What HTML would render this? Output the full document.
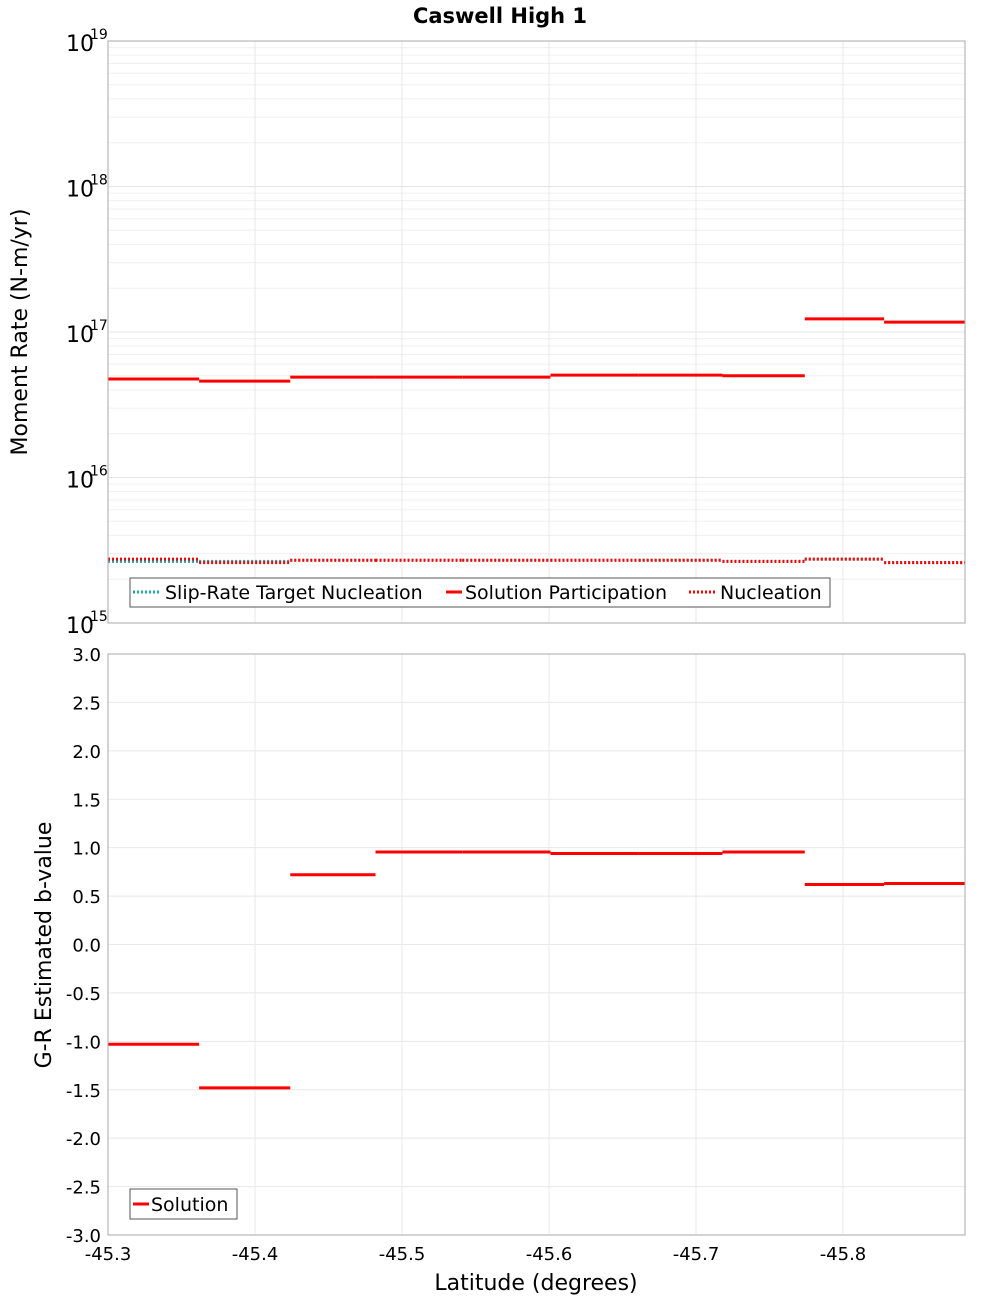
<!DOCTYPE html>
<html><head><meta charset="utf-8"><style>
body{margin:0;background:#fff;font-family:"DejaVu Sans","Liberation Sans",sans-serif}
svg text{font-family:"DejaVu Sans","Liberation Sans",sans-serif}
</style></head><body>
<svg id="c" width="1000" height="1300" xmlns="http://www.w3.org/2000/svg">
<text x="500" y="23" text-anchor="middle" font-size="21" font-weight="bold">Caswell High 1</text>
<g id="top"></g>
<g id="bot"></g>
</svg>
<script>
const binEdges=[-45.3,-45.362,-45.424,-45.482,-45.541,-45.601,-45.661,-45.718,-45.774,-45.828,-45.883];
const solutionParticipation=[4.75e16,4.6e16,4.9e16,4.9e16,4.9e16,5.05e16,5.05e16,5.0e16,1.23e17,1.17e17];
const nucleation=[2.75e15,2.6e15,2.7e15,2.7e15,2.7e15,2.7e15,2.7e15,2.65e15,2.75e15,2.6e15];
const slipRateTarget=[2.65e15,2.65e15,2.7e15,2.7e15,2.7e15,2.7e15,2.7e15,2.65e15,2.75e15,2.6e15];
const bValues=[-1.03,-1.48,0.72,0.955,0.955,0.94,0.94,0.955,0.62,0.63];
const xTicks=[-45.3,-45.4,-45.5,-45.6,-45.7,-45.8];
const bTicks=[3,2.5,2,1.5,1,0.5,0,-0.5,-1,-1.5,-2,-2.5,-3];
const logTicks=[19,18,17,16,15];

const NS='http://www.w3.org/2000/svg';
const L=108,R=965;
const xs=v=>L+(v-(-45.3))/(-45.883+45.3)*(R-L);
const T1=41,B1=623,yLog=v=>T1+(19-Math.log10(v))/4*(B1-T1);
const T2=654,B2=1235,yB=v=>T2+(3-v)/6*(B2-T2);
function el(p,tag,a,txt){const e=document.createElementNS(NS,tag);for(const k in a)e.setAttribute(k,a[k]);if(txt!==undefined)e.textContent=txt;p.appendChild(e);return e;}
const pTop=document.getElementById('top'),pBot=document.getElementById('bot');

for(let d=15;d<19;d++)for(let m=1;m<10;m++){const y=yLog(m*Math.pow(10,d));
 const g=el(pTop,'line',{x1:L,x2:R,y1:y,y2:y,stroke:m==1?'#e4e4e4':'#f0f0f0','stroke-width':1});
 }
xTicks.forEach(t=>{for(const P of [[pTop,T1,B1],[pBot,T2,B2]]){const g=el(P[0],'line',{x1:xs(t),x2:xs(t),y1:P[1],y2:P[2],stroke:'#e8e8e8'});
 }});
bTicks.forEach(t=>{const g=el(pBot,'line',{x1:L,x2:R,y1:yB(t),y2:yB(t),stroke:'#e8e8e8'});
 
 const tx=el(pBot,'text',{x:101,y:yB(t)+7,'text-anchor':'end','font-size':18},t.toFixed(1));
 });
logTicks.forEach(d=>{const y=yLog(Math.pow(10,d));
 const tx=el(pTop,'text',{x:66,y:y+10,'font-size':22},'10');
 
 const s=el(pTop,'text',{x:90,y:y-2,'font-size':14},String(d));
 });
xTicks.forEach(t=>{const tx=el(pBot,'text',{x:xs(t),y:1260,'text-anchor':'middle','font-size':18},t.toFixed(1));
 });

function steps(p,arr,yf,col,dash,w,name){for(let i=0;i<arr.length;i++){const a={x1:xs(binEdges[i]),x2:xs(binEdges[i+1]),y1:yf(arr[i]),y2:yf(arr[i]),stroke:col,'stroke-width':w};if(dash)a['stroke-dasharray']=dash;
 const g=el(p,'line',a);}}
steps(pTop,slipRateTarget,yLog,'#1aa7a7','2,2',3,'slip-rate-target-segment');
steps(pTop,nucleation,yLog,'#ff0000','2,2',3,'nucleation-segment');
steps(pTop,solutionParticipation,yLog,'#ff0000',null,3,'solution-participation-segment');
steps(pBot,bValues,yB,'#ff0000',null,3,'b-value-segment');

for(const P of [[pTop,T1,B1],[pBot,T2,B2]]){const f=el(P[0],'rect',{x:L,y:P[1],width:R-L,height:P[2]-P[1],fill:'none',stroke:'#aaa'});
 }

let lg=el(pTop,'g',{});
el(lg,'rect',{x:130,y:578,width:700,height:29,fill:'#fff',stroke:'#555'});
el(lg,'line',{x1:133,x2:161,y1:592,y2:592,stroke:'#1aa7a7','stroke-width':3,'stroke-dasharray':'2,2'});
el(lg,'text',{x:165,y:599,'font-size':19},'Slip-Rate Target Nucleation');
el(lg,'line',{x1:446,x2:462,y1:592,y2:592,stroke:'#f00','stroke-width':3});
el(lg,'text',{x:465,y:599,'font-size':19},'Solution Participation');
el(lg,'line',{x1:689,x2:716,y1:592,y2:592,stroke:'#f00','stroke-width':3,'stroke-dasharray':'2,2'});
el(lg,'text',{x:720,y:599,'font-size':19},'Nucleation');
let lg2=el(pBot,'g',{});
el(lg2,'rect',{x:130,y:1189,width:107,height:30,fill:'#fff',stroke:'#555'});
el(lg2,'line',{x1:133,x2:149,y1:1204,y2:1204,stroke:'#f00','stroke-width':3});
el(lg2,'text',{x:151,y:1211,'font-size':19},'Solution');

let t=el(pTop,'text',{x:27,y:332,'text-anchor':'middle','font-size':22,transform:'rotate(-90 27 332)'},'Moment Rate (N-m/yr)');

t=el(pBot,'text',{x:51,y:945,'text-anchor':'middle','font-size':22,transform:'rotate(-90 51 945)'},'G-R Estimated b-value');

t=el(pBot,'text',{x:536,y:1290,'text-anchor':'middle','font-size':22},'Latitude (degrees)');

</script>
</body></html>
